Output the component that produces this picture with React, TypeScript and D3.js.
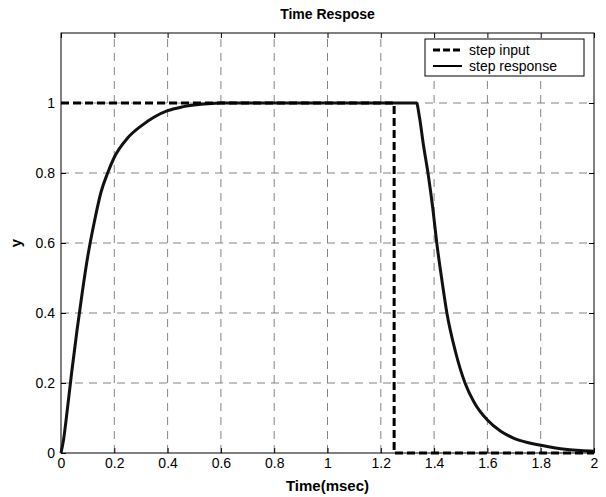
import { useEffect, useRef } from "react";
import * as d3 from "d3";

// step input: 1 until 1.25 ms, then 0
const inputT = [0, 1.25, 1.25, 2];
const inputY = [1, 1, 0, 0];

// step response
const respT = [0, 0.01, 0.02, 0.04, 0.06, 0.08, 0.1, 0.125, 0.15, 0.175, 0.2, 0.25, 0.3, 0.35, 0.4, 0.45, 0.5, 0.55, 0.6, 1.334,
  1.345, 1.36, 1.377, 1.395, 1.41, 1.43, 1.448, 1.48, 1.516, 1.55, 1.6, 1.65, 1.7, 1.75, 1.8, 1.85, 1.9, 1.95, 2];
const respY = [0, 0.04, 0.1, 0.23, 0.35, 0.46, 0.56, 0.66, 0.745, 0.8, 0.845, 0.9, 0.934, 0.96, 0.978, 0.988, 0.994, 0.998, 1, 1,
  0.96, 0.88, 0.8, 0.7, 0.6, 0.49, 0.4, 0.29, 0.2, 0.145, 0.094, 0.062, 0.042, 0.03, 0.022, 0.015, 0.01, 0.007, 0.005];

const xTicks = [0, 0.2, 0.4, 0.6, 0.8, 1, 1.2, 1.4, 1.6, 1.8, 2];
const yTicks = [0, 0.2, 0.4, 0.6, 0.8, 1];
const legendLabels = ["step input", "step response"];

const App = () => {
  const svgRef = useRef<SVGSVGElement>(null);

  useEffect(() => {
    const w = 606, h = 497;
    const m = { left: 61, right: 12, top: 33, bottom: 44 };
    const font = "'Liberation Sans', Arial, sans-serif";

    const svg = d3.select(svgRef.current)
    svg.selectAll("*").remove()

    const x = d3.scaleLinear().domain([0, 2]).range([m.left, w - m.right])
    const y = d3.scaleLinear().domain([0, 1.2]).range([h - m.bottom, m.top])

    svg.append("rect").attr("width", w).attr("height", h).attr("fill", "#fff")

    // grid
    const grid = svg.append("g").attr("stroke", "#666").attr("stroke-width", 0.8).attr("stroke-dasharray", "8,6")
    grid.selectAll(".gx").data(xTicks.slice(1, -1)).join("line")
      .attr("x1", d => x(d)).attr("x2", d => x(d)).attr("y1", y(0)).attr("y2", y(1.2))
    grid.selectAll(".gy").data(yTicks.slice(1)).join("line")
      .attr("y1", d => y(d)).attr("y2", d => y(d)).attr("x1", x(0)).attr("x2", x(2))

    // axes, ticks inward on all four sides
    const axisB = d3.axisBottom(x).tickValues(xTicks).tickSizeInner(-5).tickSizeOuter(0).tickPadding(5).tickFormat(d3.format("~g"))
    const axisT = d3.axisTop(x).tickValues(xTicks).tickSizeInner(-5).tickSizeOuter(0).tickFormat(() => "")
    const axisL = d3.axisLeft(y).tickValues(yTicks).tickSizeInner(-5).tickSizeOuter(0).tickPadding(6).tickFormat(d3.format("~g"))
    const axisR = d3.axisRight(y).tickValues(yTicks).tickSizeInner(-5).tickSizeOuter(0).tickFormat(() => "")

    const styleAxis = (g: any) => {
      g.selectAll("path").remove()
      g.selectAll("line").attr("stroke", "#000")
      g.selectAll("text").attr("font-family", font).attr("font-size", 14).attr("fill", "#000")
    }
    svg.append("g").attr("transform", `translate(0,${y(0)})`).call(axisB).call(styleAxis)
    svg.append("g").attr("transform", `translate(0,${y(1.2)})`).call(axisT).call(styleAxis)
    svg.append("g").attr("transform", `translate(${x(0)},0)`).call(axisL).call(styleAxis)
    svg.append("g").attr("transform", `translate(${x(2)},0)`).call(axisR).call(styleAxis)

    svg.append("rect").attr("x", x(0)).attr("y", y(1.2)).attr("width", x(2) - x(0)).attr("height", y(0) - y(1.2))
      .attr("fill", "none").attr("stroke", "#000").attr("stroke-width", 1)

    const respPath = d3.line<number>().x(d => x(d)).y((d, i) => y(respY[i])).curve(d3.curveMonotoneX)
    svg.append("path").attr("d", respPath(respT)).attr("fill", "none").attr("stroke", "#111").attr("stroke-width", 3)

    const inPath = d3.line<number>().x(d => x(d)).y((d, i) => y(inputY[i]))
    svg.append("path").attr("d", inPath(inputT)).attr("fill", "none").attr("stroke", "#000")
      .attr("stroke-width", 3).attr("stroke-dasharray", "8,4")

    // legend
    const lg = svg.append("g").attr("transform", "translate(425,39)")
    lg.append("rect").attr("width", 159).attr("height", 37).attr("fill", "#fff").attr("stroke", "#000").attr("stroke-width", 1)
    legendLabels.forEach((lab, i) => {
      lg.append("line").attr("x1", 8).attr("x2", 37).attr("y1", 11 + i * 16).attr("y2", 11 + i * 16)
        .attr("stroke", "#000").attr("stroke-width", i === 0 ? 3 : 2).attr("stroke-dasharray", i === 0 ? "7,3" : null)
      lg.append("text").attr("x", 44).attr("y", 16 + i * 16).text(lab)
        .attr("font-family", font).attr("font-size", 14).attr("fill", "#000")
    })

    // titles
    svg.append("text").attr("x", (x(0) + x(2)) / 2).attr("y", 19).attr("text-anchor", "middle")
      .attr("font-family", font).attr("font-size", 14).attr("font-weight", "bold").text("Time Respose")
    svg.append("text").attr("x", (x(0) + x(2)) / 2).attr("y", 491).attr("text-anchor", "middle")
      .attr("font-family", font).attr("font-size", 15).attr("font-weight", "bold").text("Time(msec)")
    svg.append("text").attr("transform", `translate(21,${y(0.6)}) rotate(-90)`).attr("text-anchor", "middle")
      .attr("font-family", font).attr("font-size", 15).attr("font-weight", "bold").text("y")
  }, [])

  return (
    <svg ref={svgRef} width={606} height={497} style={{ position: "absolute", left: 0, top: 0 }}></svg>
  )
}

export default App;
